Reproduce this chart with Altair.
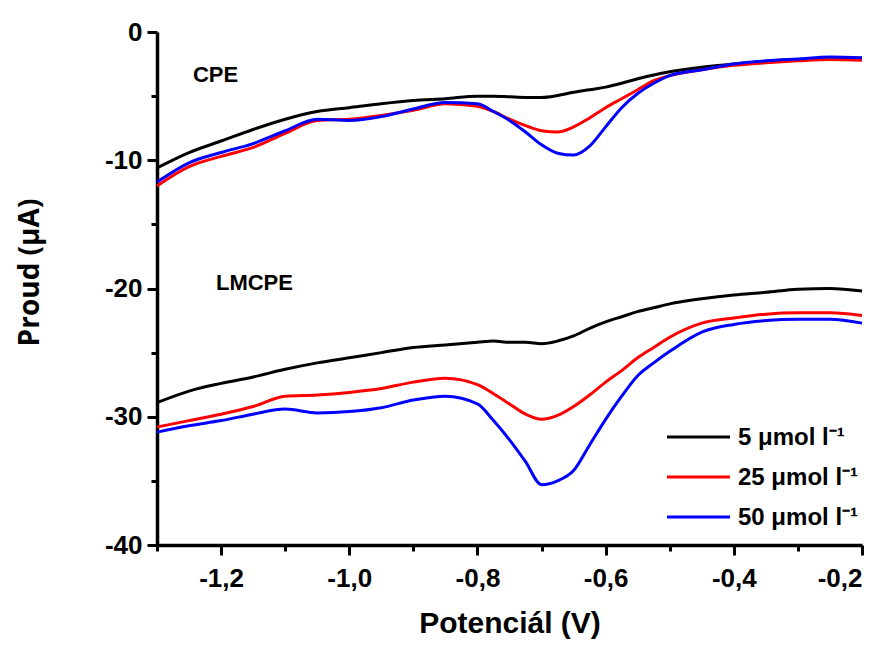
import altair as alt
import pandas as pd

# Potential (V)
potential = [-1.30, -1.25, -1.20, -1.15, -1.10, -1.05, -1.00, -0.95, -0.90, -0.85,
             -0.80, -0.775, -0.75, -0.725, -0.70, -0.675, -0.65, -0.625, -0.60, -0.575,
             -0.55, -0.525, -0.50, -0.45, -0.40, -0.35, -0.30, -0.25, -0.20]

# CPE currents (uA)
cpe_5 = [-10.6, -9.4, -8.5, -7.6, -6.8, -6.2, -5.9, -5.6, -5.35, -5.2,
         -5.0, -5.0, -5.05, -5.1, -5.1, -4.95, -4.7, -4.5, -4.3, -4.0,
         -3.65, -3.35, -3.1, -2.75, -2.5, -2.3, -2.15, -2.05, -2.1]
cpe_25 = [-12.0, -10.5, -9.7, -9.0, -7.9, -6.9, -6.8, -6.5, -6.1, -5.6,
          -5.8, -6.2, -6.8, -7.3, -7.7, -7.8, -7.4, -6.7, -5.9, -5.2,
          -4.5, -3.8, -3.4, -2.95, -2.6, -2.4, -2.25, -2.15, -2.2]
cpe_50 = [-11.7, -10.2, -9.4, -8.7, -7.7, -6.8, -6.9, -6.6, -6.0, -5.5,
          -5.6, -6.2, -6.9, -7.8, -8.8, -9.45, -9.6, -8.9, -7.4, -5.9,
          -4.8, -4.0, -3.4, -2.95, -2.5, -2.25, -2.1, -1.95, -2.0]

# LMCPE currents (uA)
lm_5 = [-28.9, -28.0, -27.4, -26.9, -26.3, -25.8, -25.4, -25.0, -24.6, -24.4,
        -24.2, -24.1, -24.2, -24.2, -24.3, -24.1, -23.7, -23.1, -22.6, -22.2,
        -21.8, -21.5, -21.2, -20.8, -20.5, -20.3, -20.05, -20.0, -20.2]
lm_25 = [-30.8, -30.3, -29.8, -29.2, -28.4, -28.3, -28.1, -27.8, -27.3, -27.0,
         -27.5, -28.2, -29.0, -29.8, -30.2, -29.9, -29.2, -28.3, -27.3, -26.4,
         -25.4, -24.6, -23.8, -22.7, -22.3, -22.0, -21.9, -21.9, -22.1]
lm_50 = [-31.2, -30.7, -30.3, -29.8, -29.4, -29.7, -29.6, -29.3, -28.7, -28.4,
         -29.0, -30.3, -31.8, -33.5, -35.3, -35.0, -34.2, -32.2, -30.2, -28.4,
         -26.8, -25.8, -24.9, -23.4, -22.8, -22.5, -22.4, -22.4, -22.7]

electrodes = ["CPE", "LMCPE"]
series_labels = ["5 \u03bcmol l\u207b\u00b9", "25 \u03bcmol l\u207b\u00b9", "50 \u03bcmol l\u207b\u00b9"]
series_colors = ["#000000", "#ff0000", "#0000ff"]

ann_labels = ["CPE", "LMCPE"]
ann_x = [-1.244, -1.208]
ann_y = [-3.35, -19.6]

x_major = [-1.2, -1.0, -0.8, -0.6, -0.4, -0.2]
x_minor = [-1.3, -1.1, -0.9, -0.7, -0.5, -0.3]
y_major = [0, -10, -20, -30, -40]
y_minor = [-5, -15, -25, -35]

rows = []
for elec, sets in zip(electrodes, [[cpe_5, cpe_25, cpe_50], [lm_5, lm_25, lm_50]]):
    for lab, vals in zip(series_labels, sets):
        for i, (x, y) in enumerate(zip(potential, vals)):
            rows.append({"electrode": elec, "conc": lab, "E": x, "I": y, "idx": i})
df = pd.DataFrame(rows)
ann_df = pd.DataFrame({"label": ann_labels, "E": ann_x, "I": ann_y})
leg_df = pd.DataFrame({"conc": series_labels, "row": list(range(len(series_labels)))})

xscale = alt.Scale(domain=[-1.3, -0.2], nice=False, zero=False)
yscale = alt.Scale(domain=[-40, 0], nice=False, zero=False)
cscale = alt.Scale(domain=series_labels, range=series_colors)

FONT = "Liberation Sans"

x_axis = alt.Axis(
    values=x_major, orient="bottom", grid=False,
    labelExpr="replace(replace(format(datum.value, '.1f'), '.', ','), '\u2212', '-')",
    tickSize=10, tickWidth=3, domainWidth=3.5, domainColor="black", tickColor="black",
    labelFont=FONT, labelFontSize=26, labelFontWeight="bold", labelColor="black",
    labelPadding=10,
    title="Potenci\u00e1l (V)", titleFont=FONT, titleFontSize=30, titleFontWeight="bold",
    titleColor="black", titlePadding=17,
)
y_axis = alt.Axis(
    values=y_major, orient="left", grid=False,
    labelExpr="replace(format(datum.value, 'd'), '\u2212', '-')",
    tickSize=10, tickWidth=3, domainWidth=3.5, domainColor="black", tickColor="black",
    labelFont=FONT, labelFontSize=26, labelFontWeight="bold", labelColor="black",
    labelPadding=5,
    title="Proud (\u03bcA)", titleFont="Open Sans", titleFontSize=28, titleFontWeight="bold",
    titleColor="black", titlePadding=60, titleY=240,
)

lines = alt.Chart(df).mark_line(strokeWidth=3, interpolate="monotone").encode(
    x=alt.X("E:Q", scale=xscale, axis=x_axis),
    y=alt.Y("I:Q", scale=yscale, axis=y_axis),
    color=alt.Color("conc:N", scale=cscale, legend=None),
    detail="electrode:N",
    order="idx:Q",
)

minor = alt.Chart(df).mark_line(opacity=0).encode(
    x=alt.X("E:Q", scale=xscale, axis=alt.Axis(
        values=x_minor, orient="bottom", labels=False, domain=False, grid=False,
        tickSize=6, tickWidth=3, tickColor="black", title=None)),
    y=alt.Y("I:Q", scale=yscale, axis=alt.Axis(
        values=y_minor, orient="left", labels=False, domain=False, grid=False,
        tickSize=6, tickWidth=3, tickColor="black", title=None)),
    detail="electrode:N",
)

ann = alt.Chart(ann_df).mark_text(
    align="left", baseline="middle", font=FONT, fontSize=22, fontWeight="bold", color="black"
).encode(
    x=alt.X("E:Q", scale=xscale, axis=None),
    y=alt.Y("I:Q", scale=yscale, axis=None),
    text="label:N",
)

# manual legend (pixel placement inside the plot area)
leg_base = alt.Chart(leg_df).transform_calculate(py="405 + 40 * datum.row")
leg_lines = leg_base.mark_rule(strokeWidth=3).encode(
    x=alt.value(510), x2=alt.value(573),
    y=alt.Y("py:Q", scale=None, axis=None),
    color=alt.Color("conc:N", scale=cscale, legend=None),
)
leg_text = leg_base.mark_text(
    align="left", baseline="middle", font=FONT, fontSize=24, fontWeight="bold", color="black", dy=1
).encode(
    x=alt.value(581),
    y=alt.Y("py:Q", scale=None, axis=None),
    text="conc:N",
)

chart = alt.layer(lines, minor, ann, leg_lines, leg_text).resolve_axis(
    x="independent", y="independent"
).properties(
    width=705, height=513,
    autosize=alt.AutoSizeParams(type="none"),
    padding={"left": 149, "top": 24, "right": 10, "bottom": 96},
    background="white",
).configure_view(stroke=None)

chart.save("out.html", embed_options={"renderer": "svg", "actions": False})
